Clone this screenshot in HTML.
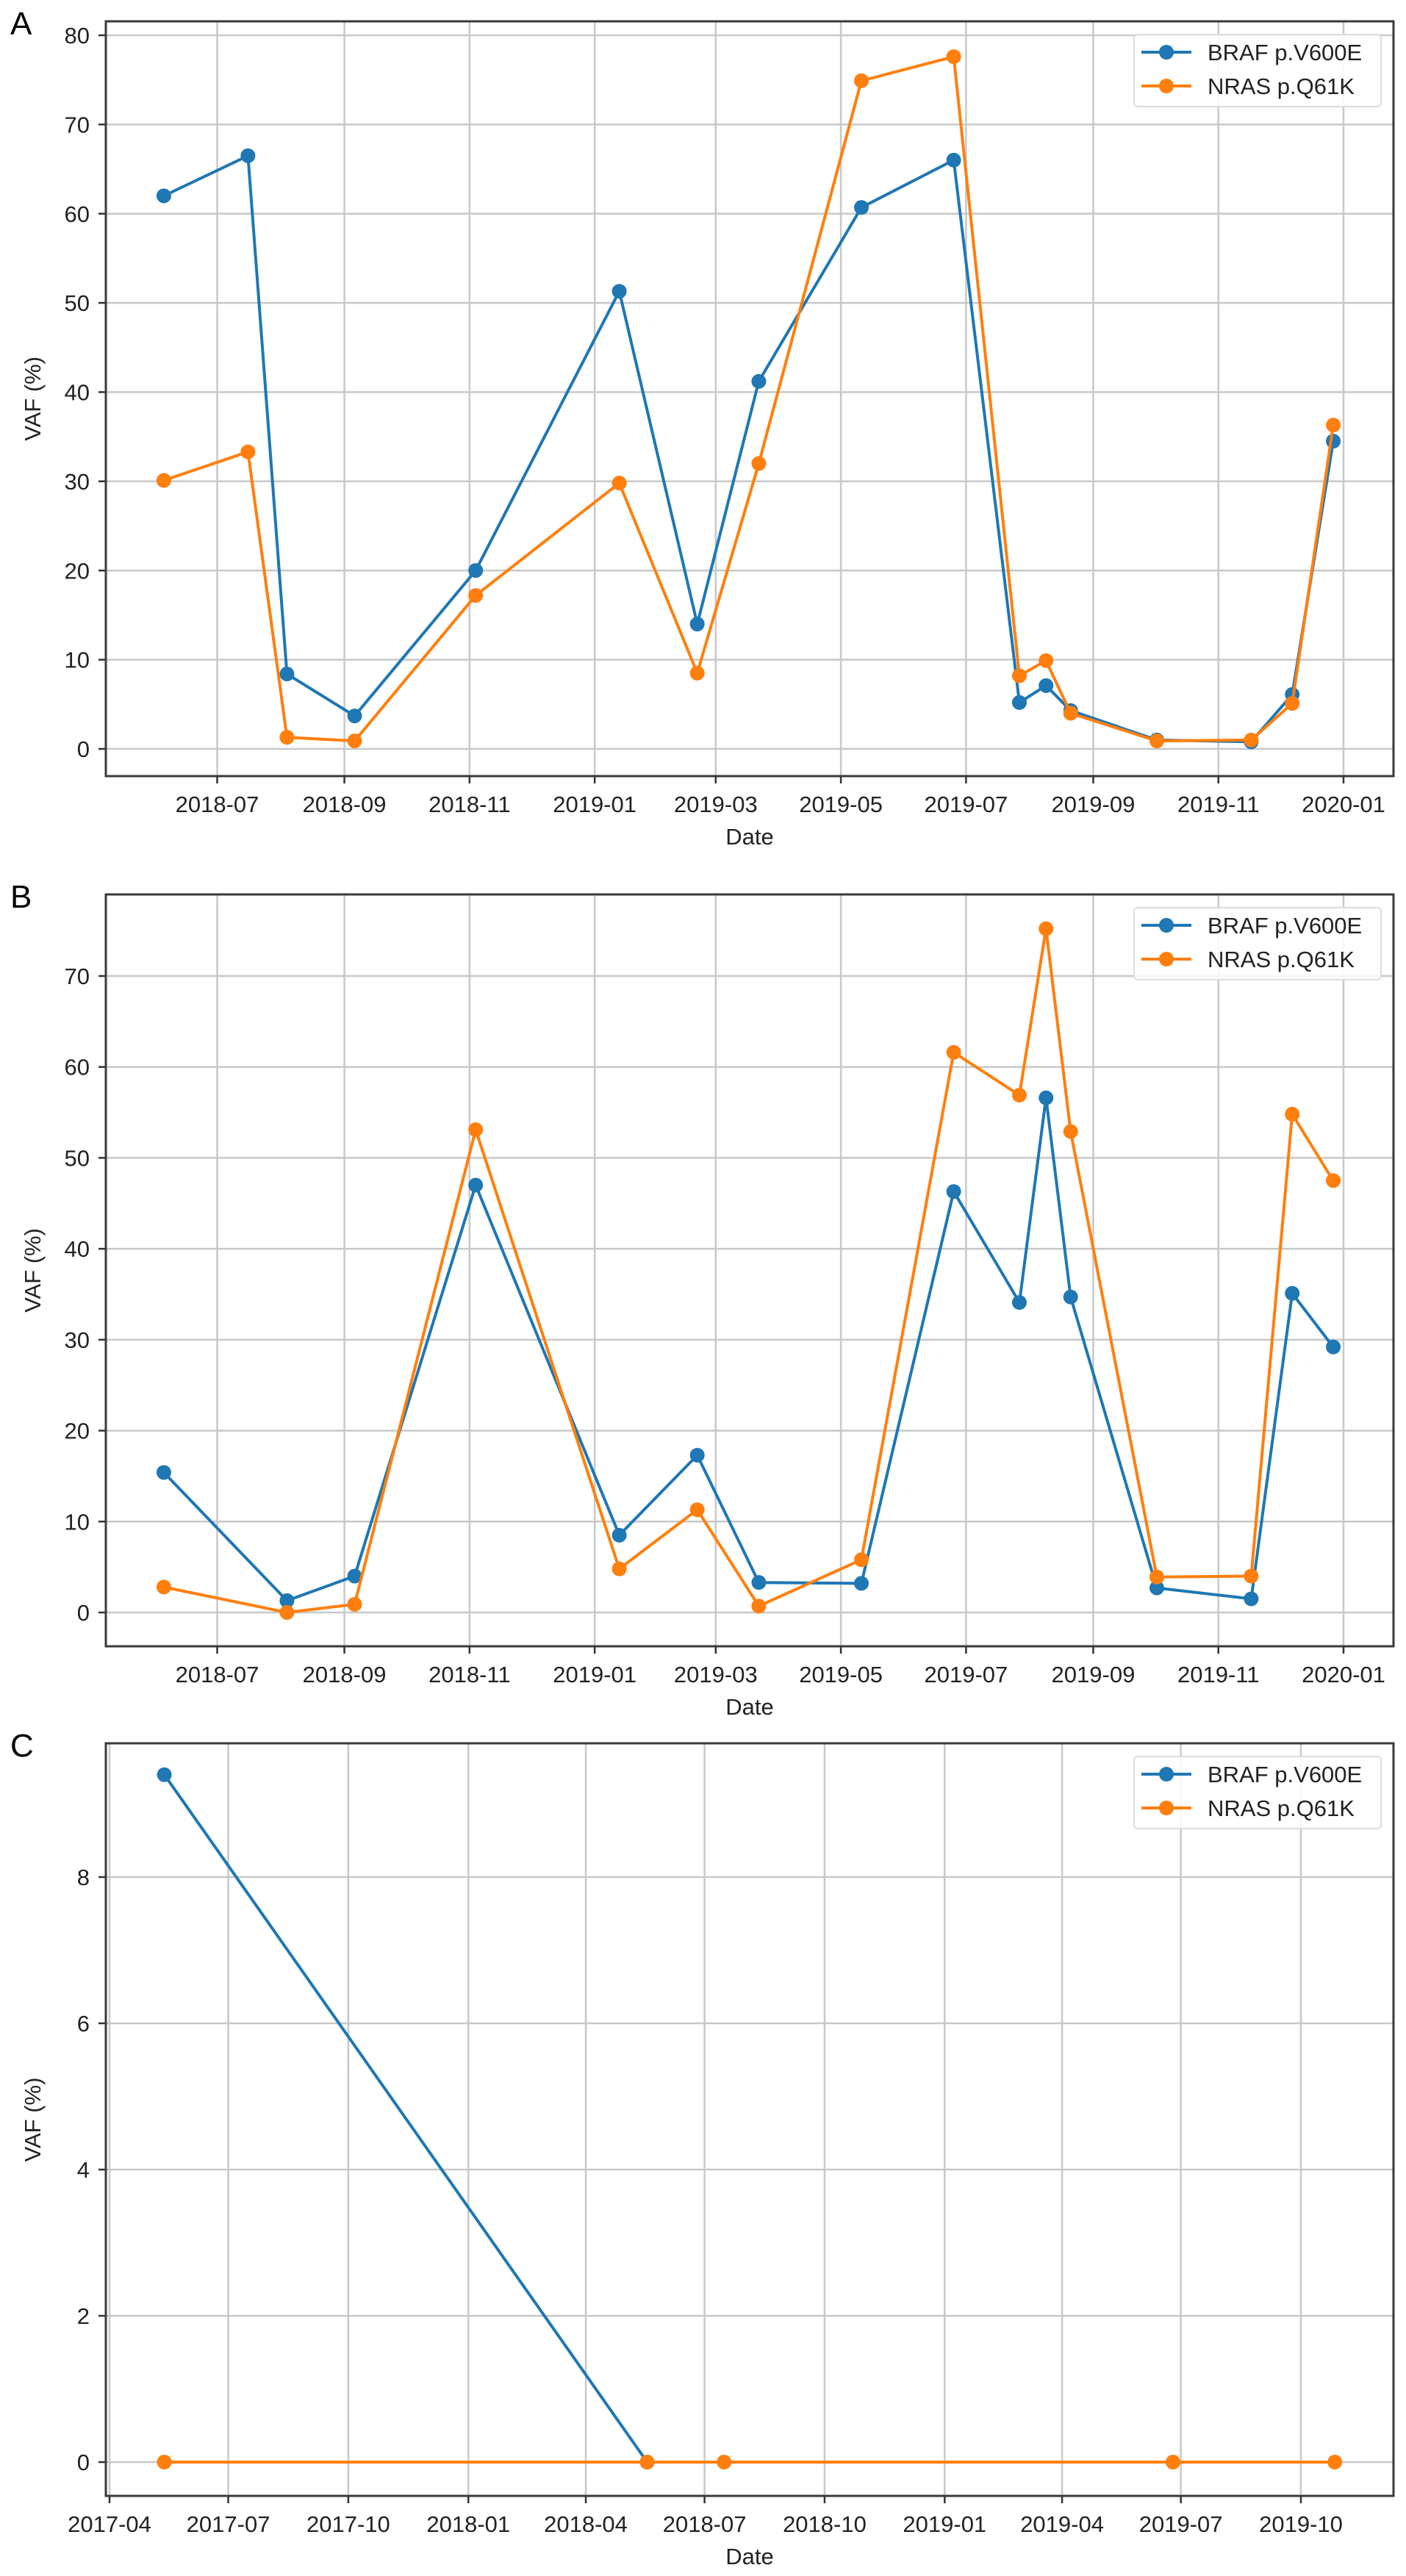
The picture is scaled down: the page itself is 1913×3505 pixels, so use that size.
<!DOCTYPE html>
<html><head><meta charset="utf-8"><style>
html,body{margin:0;padding:0;background:#fff;}
svg{display:block;font-family:"Liberation Sans",sans-serif;}
</style></head><body>
<svg id="fig" width="1913" height="3505" viewBox="0 0 1913 3505" xmlns="http://www.w3.org/2000/svg"></svg>
<script>
// Panel A data
const datesA = ["2018-06-05","2018-07-16","2018-08-04","2018-09-06","2018-11-04","2019-01-13","2019-02-20","2019-03-22","2019-05-11","2019-06-25","2019-07-27","2019-08-09","2019-08-21","2019-10-02","2019-11-17","2019-12-07","2019-12-27"];
const brafA = [62,66.5,8.4,3.7,20,51.3,14,41.2,60.7,66,5.2,7.1,4.3,1,0.8,6.1,34.5];
const nrasA = [30.1,33.3,1.3,0.9,17.2,29.8,8.5,32,74.9,77.6,8.2,9.9,4,0.9,1,5.1,36.3];
const yTicksA = [0,10,20,30,40,50,60,70,80];
// Panel B data
const datesB = ["2018-06-05","2018-08-04","2018-09-06","2018-11-04","2019-01-13","2019-02-20","2019-03-22","2019-05-11","2019-06-25","2019-07-27","2019-08-09","2019-08-21","2019-10-02","2019-11-17","2019-12-07","2019-12-27"];
const brafB = [15.4,1.3,4,47,8.5,17.3,3.3,3.2,46.3,34.1,56.6,34.7,2.7,1.5,35.1,29.2];
const nrasB = [2.8,0,0.9,53.1,4.8,11.3,0.7,5.8,61.6,56.9,75.2,52.9,3.9,4,54.8,47.5];
const yTicksB = [0,10,20,30,40,50,60,70];
// Panel C data
const datesC_braf = ["2017-05-13","2018-05-18"];
const brafC = [9.4,0];
const datesC_nras = ["2017-05-13","2018-05-18","2018-07-16","2019-06-25","2019-10-27"];
const nrasC = [0,0,0,0,0];
const yTicksC = [0,2,4,6,8];
const xTicksAB = ["2018-07","2018-09","2018-11","2019-01","2019-03","2019-05","2019-07","2019-09","2019-11","2020-01"];
const xTicksC = ["2017-04","2017-07","2017-10","2018-01","2018-04","2018-07","2018-10","2019-01","2019-04","2019-07","2019-10"];

const NS="http://www.w3.org/2000/svg";
const svg=document.getElementById('fig');
function el(tag,attrs,parent,text){const e=document.createElementNS(NS,tag);for(const k in attrs)e.setAttribute(k,attrs[k]);if(text!==undefined)e.textContent=text;(parent||svg).appendChild(e);return e;}
function day(s){const p=s.split('-').map(Number);return Date.UTC(p[0],p[1]-1,p[2]||1)/86400000;}

function panel(cfg){
  const g=el('g',{},svg);
  
  
  const L=144,R=1896,T=cfg.top,B=cfg.bottom;
  const d0=day(cfg.xref[0]),d1=day(cfg.xref[1]);
  const xs=d=>cfg.xpx[0]+(day(d)-d0)*(cfg.xpx[1]-cfg.xpx[0])/(d1-d0);
  const ys=v=>cfg.y0+(v-cfg.yref[0])*(cfg.y1-cfg.y0)/(cfg.yref[1]-cfg.yref[0]);
  const lab=el('text',{x:14,y:T+18,'font-size':44},g,cfg.id);
  
  
  // grid
  cfg.xticks.forEach(t=>{const x=xs(t);
    const l=el('line',{x1:x,x2:x,y1:T,y2:B,stroke:'#c8c8c8','stroke-width':2.5},g);
    
    el('line',{x1:x,x2:x,y1:B,y2:B+10,stroke:'#333','stroke-width':2.5},g);
    const tx=el('text',{x:x,y:B+49,'font-size':31,'text-anchor':'middle',fill:'#222'},g,t);
    
  });
  cfg.yticks.forEach(t=>{const y=ys(t);
    const l=el('line',{x1:L,x2:R,y1:y,y2:y,stroke:'#c8c8c8','stroke-width':2.5},g);
    
    el('line',{x1:L-10,x2:L,y1:y,y2:y,stroke:'#333','stroke-width':2.5},g);
    const tx=el('text',{x:122,y:y+11,'font-size':31,'text-anchor':'end',fill:'#222'},g,String(t));
    
  });
  const fr=el('rect',{x:L,y:T,width:R-L,height:B-T,fill:'none',stroke:'#3a3a3a','stroke-width':3},g);
  
  const xt=el('text',{x:(L+R)/2,y:B+93,'font-size':31,'text-anchor':'middle',fill:'#222'},g,'Date');
  
  const cy=(T+B)/2;
  const yt=el('text',{x:0,y:0,'font-size':31,'text-anchor':'middle',fill:'#222',transform:'translate(55,'+cy+') rotate(-90)'},g,'VAF (%)');
  
  cfg.series.forEach(s=>{
    const pts=s.dates.map((d,i)=>xs(d).toFixed(1)+','+ys(s.vals[i]).toFixed(1)).join(' ');
    const pl=el('polyline',{points:pts,fill:'none',stroke:s.color,'stroke-width':4,'stroke-linejoin':'round'},g);
    
    s.dates.forEach((d,i)=>{
      const c=el('circle',{cx:xs(d),cy:ys(s.vals[i]),r:10,fill:s.color},g);
      
    });
  });
  // legend
  const lg=el('g',{},g);
  
  el('rect',{x:1543,y:T+18,width:336,height:98,rx:5,fill:'#fff','fill-opacity':0.85,stroke:'#ddd','stroke-width':2},lg);
  cfg.series.forEach((s,i)=>{const y=T+42+i*46;
    const e=el('g',{},lg);
    
    el('line',{x1:1553,x2:1621,y1:y,y2:y,stroke:s.color,'stroke-width':4},e);
    el('circle',{cx:1587,cy:y,r:10,fill:s.color},e);
    el('text',{x:1643,y:y+11,'font-size':31,fill:'#222'},e,s.label);
  });
}
const blue='#1f77b4',orange='#ff7f0e';
panel({id:'A',top:29,bottom:1056,xref:['2018-07-01','2020-01-01'],xpx:[295.5,1828],yref:[0,80],y0:1019,y1:48,xticks:xTicksAB,yticks:yTicksA,
  series:[{name:'braf',label:'BRAF p.V600E',color:blue,dates:datesA,vals:brafA},{name:'nras',label:'NRAS p.Q61K',color:orange,dates:datesA,vals:nrasA}]});
panel({id:'B',top:1217,bottom:2240,xref:['2018-07-01','2020-01-01'],xpx:[295.5,1828],yref:[0,70],y0:2194,y1:1328,xticks:xTicksAB,yticks:yTicksB,
  series:[{name:'braf',label:'BRAF p.V600E',color:blue,dates:datesB,vals:brafB},{name:'nras',label:'NRAS p.Q61K',color:orange,dates:datesB,vals:nrasB}]});
panel({id:'C',top:2372,bottom:3396,xref:['2017-04-01','2019-10-01'],xpx:[149,1770],yref:[0,8],y0:3350,y1:2554,xticks:xTicksC,yticks:yTicksC,
  series:[{name:'braf',label:'BRAF p.V600E',color:blue,dates:datesC_braf,vals:brafC},{name:'nras',label:'NRAS p.Q61K',color:orange,dates:datesC_nras,vals:nrasC}]});
</script>
</body></html>
